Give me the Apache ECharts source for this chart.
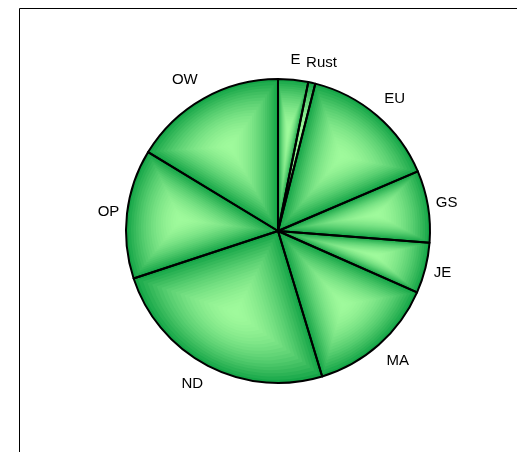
<!DOCTYPE html>
<html>
<head>
<meta charset="utf-8">
<script src="https://cdn.jsdelivr.net/npm/echarts@6/dist/echarts.min.js"></script>
<style>
html,body{margin:0;padding:0;background:#fff;}
#chart{width:517px;height:452px;}
</style>
</head>
<body>
<div id="chart"></div>
<script>
const categories = ['E', 'Rust', 'EU', 'GS', 'JE', 'MA', 'ND', 'OP', 'OW'];
const values = [11.5, 2.7, 52.7, 27.5, 19.4, 49.3, 88.7, 49.5, 58.7];

const CX = 278, CY = 231, R = 152;
const LIGHT = [160, 250, 156], DARK = [22, 166, 72];
const LAYERS = 22;

const total = values.reduce((a, b) => a + b, 0);
const midAngles = [], starts = [];
let acc = 0;
values.forEach(v => { starts.push(acc); midAngles.push((acc + v / 2) / total * 2 * Math.PI); acc += v; });

const clamp = v => Math.max(-1, Math.min(1, v));
const rgb = t => 'rgb(' + DARK.map((d, j) => Math.round(LIGHT[j] + (d - LIGHT[j]) * t)).join(',') + ')';
const clear = { color: 'rgba(0,0,0,0)', borderWidth: 0 };

const series = [];
// base pie with labels
series.push({
  type: 'pie', center: [CX, CY], radius: [0, R], startAngle: 90, clockwise: true,
  avoidLabelOverlap: false, silent: true,
  data: categories.map((c, i) => ({ name: c, value: values[i] })),
  itemStyle: { color: rgb(1), borderWidth: 0 },
  label: {
    show: true, position: 'outside', formatter: '{b}',
    fontFamily: 'Liberation Sans, Arial, sans-serif', fontSize: 15, color: '#000'
  },
  labelLine: { show: false },
  emphasis: { disabled: true },
  labelLayout: function (p) {
    const a = midAngles[p.dataIndex];
    const s = Math.sin(a), c = Math.cos(a);
    const rr = 159 + 6 * Math.abs(c);
    const ax = CX + rr * s, ay = CY - rr * c;
    const w = p.labelRect.width, h = p.labelRect.height;
    return {
      x: ax + clamp(s * 2.0) * w / 2,
      y: ay - clamp(c * 1.5) * h / 2,
      align: 'center', verticalAlign: 'middle'
    };
  }
});
// path-gradient style shading: scaled copies of each slice around its centroid
values.forEach((v, i) => {
  const half = v / total * Math.PI;
  const d = 2 * R * Math.sin(half) / (3 * half);
  const gx = CX + d * Math.sin(midAngles[i]);
  const gy = CY - d * Math.cos(midAngles[i]);
  for (let k = 1; k < LAYERS; k++) {
    const s = 1 - k / LAYERS;
    series.push({
      type: 'pie', silent: true, startAngle: 90, clockwise: true,
      center: [gx + s * (CX - gx), gy + s * (CY - gy)],
      radius: [0, s * R],
      label: { show: false }, labelLine: { show: false },
      emphasis: { disabled: true },
      data: [
        { value: starts[i], itemStyle: clear },
        { value: v, itemStyle: { color: rgb(Math.pow(s, 1.8)), borderWidth: 0 } },
        { value: total - starts[i] - v, itemStyle: clear }
      ]
    });
  }
});
// black outlines on top
series.push({
  type: 'pie', center: [CX, CY], radius: [0, R], startAngle: 90, clockwise: true,
  silent: true, label: { show: false }, labelLine: { show: false },
  emphasis: { disabled: true },
  data: categories.map((c, i) => ({ name: c, value: values[i] })),
  itemStyle: { color: 'rgba(0,0,0,0)', borderColor: '#000', borderWidth: 2 }
});

const chart = echarts.init(document.getElementById('chart'));
chart.setOption({
  animation: false,
  graphic: [{
    type: 'rect', silent: true,
    shape: { x: 19.5, y: 8.5, width: 600, height: 600 },
    style: { fill: 'none', stroke: '#000', lineWidth: 1 }
  }],
  series: series
});
</script>
</body>
</html>
